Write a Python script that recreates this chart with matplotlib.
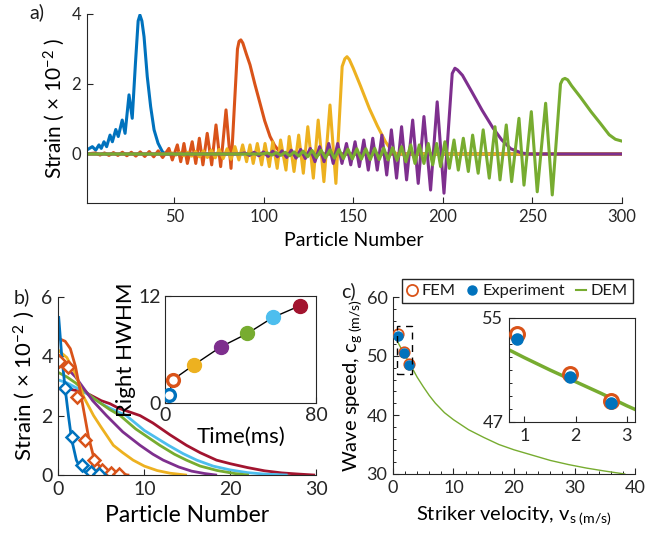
import matplotlib
matplotlib.use("Agg")
import matplotlib.pyplot as plt
from matplotlib.patches import Rectangle
from matplotlib.lines import Line2D
from matplotlib.ticker import MultipleLocator

plt.rcParams['font.family'] = ['Lato', 'DejaVu Sans']
plt.rcParams['mathtext.fontset'] = 'custom'
plt.rcParams['mathtext.rm'] = 'Lato'
plt.rcParams['mathtext.it'] = 'Lato:italic'
plt.rcParams['axes.edgecolor'] = '#262626'
plt.rcParams['text.color'] = '#1a1a1a'
plt.rcParams['xtick.color'] = '#262626'
plt.rcParams['ytick.color'] = '#262626'

# MATLAB default line colours
c_blue, c_orange, c_yellow = '#0072BD', '#D95319', '#EDB120'
c_purple, c_green, c_cyan, c_red = '#7E2F8E', '#77AC30', '#4DBEEE', '#A2142F'

# ---------------- panel a: strain along the chain (5 snapshots) ----------------
a_blue_x = [1, 4.2, 6.1, 7.9, 9.2, 10.7, 12.2, 14.1, 15.4, 17.3, 18.7, 20.9, 22.5, 24.7, 26.5,
            28.3, 29.8, 30.8, 31.9, 33.1, 34.9, 36.8, 38.7, 40.9, 43.3, 45, 300]
a_blue_y = [0.11, 0.21, 0.11, 0.26, 0.16, 0.35, 0.21, 0.54, 0.35, 0.70, 0.50, 0.97, 0.59, 1.69, 1.02,
            2.6, 3.8, 3.97, 3.8, 3.35, 2.21, 1.35, 0.69, 0.31, 0.07, 0, 0]

a_orange_x = [1, 6, 8.5, 11, 13.5, 16, 18.5, 21, 23.5, 26, 28.5, 31, 33.5, 36, 38.5, 41, 43.5,
              47.0, 48.9, 51.7, 53.6, 55.4, 57.3, 60.0, 62.0, 64.0, 66.0, 68.4, 70.9, 73.3, 75.9,
              78.9, 81.7, 85.3, 86.2, 87.2, 88.3, 90.3, 92.3, 95, 97.9, 100.5, 103.5, 106, 108.1,
              111, 113, 300]
a_orange_y = [0, 0.03, -0.03, 0.03, -0.04, 0.04, -0.04, 0.05, -0.05, 0.05, -0.06, 0.06, -0.07, 0.07,
              -0.08, 0.09, -0.1,
              0.16, -0.17, 0.26, -0.22, 0.30, -0.27, 0.35, -0.27, 0.45, -0.31, 0.59, -0.31, 0.83, -0.36,
              1.26, -0.41, 3.0, 3.22, 3.26, 3.17, 2.85, 2.55, 2.0, 1.45, 0.95, 0.5, 0.25, 0.11,
              0.02, 0, 0]

a_yellow_x = [1, 46, 48.7, 50.9, 53.1, 55.3, 57.5, 59.7, 61.9, 64.1, 66.3, 68.5, 70.7, 72.9, 75.1,
              77.3, 79.5, 81.7,
              83.9, 86.1, 88.2, 90.4, 92.3, 94.1, 96.4, 98.8, 100.7, 103.1, 105.0, 107.5, 109.4,
              112.4, 114.2, 116.9, 119.5, 122.1, 124.6, 127.7, 130.4, 133.6, 137.0, 140.3,
              143.8, 145.3, 146.5, 147.8, 150, 154, 159, 163.5, 168, 172, 175, 300]
a_yellow_y = [0, 0, 0.03, -0.03, 0.04, -0.05, 0.05, -0.06, 0.07, -0.08, 0.09, -0.1, 0.11, -0.11,
              0.13, -0.13, 0.15, -0.15,
              0.21, -0.17, 0.26, -0.22, 0.26, -0.27, 0.30, -0.31, 0.30, -0.36, 0.35, -0.41, 0.40,
              -0.46, 0.50, -0.50, 0.54, -0.55, 0.78, -0.69, 0.97, -0.79, 1.40, -0.84,
              2.5, 2.72, 2.78, 2.7, 2.45, 1.95, 1.3, 0.8, 0.35, 0.06, 0, 0]

a_purple_x = [1, 86, 89.4, 92, 94.6, 97.2, 99.8, 102.4, 105, 107.6, 110.2, 112.8, 115.4, 118, 120.6,
              123.2,
              126.0, 128.6, 131.2, 133.7, 136.3, 138.8, 141.3, 143.7, 146.2, 148.6, 151.0, 153.4,
              155.9, 158.4, 160.9, 163.4, 166.0, 168.7, 171.3, 174.2, 177.0, 179.8, 183.2, 186.3,
              189.5, 193.2, 196.9, 200.7,
              205.3, 206.8, 208.3, 211, 216, 222, 228, 233, 238, 244, 248, 300]
a_purple_y = [0, 0, 0.03, -0.04, 0.05, -0.05, 0.06, -0.07, 0.08, -0.08, 0.09, -0.1, 0.11, -0.12, 0.13,
              -0.13,
              0.16, -0.22, 0.21, -0.22, 0.30, -0.27, 0.30, -0.27, 0.30, -0.31, 0.35, -0.36,
              0.40, -0.46, 0.45, -0.46, 0.54, -0.60, 0.69, -0.69, 0.78, -0.74, 0.97, -0.84,
              1.07, -1.03, 1.49, -1.12,
              2.3, 2.45, 2.4, 2.25, 1.8, 1.25, 0.75, 0.4, 0.15, 0.03, 0, 0]

a_green_x = [1, 99, 102, 104.5, 107, 109.5, 112, 114.5, 117, 119.5, 122, 124.5, 127, 129.5, 132,
             134.5, 137, 139.5, 142, 144.5, 147, 149.5, 152, 154.5, 157, 159.5, 162, 164.5, 167,
             169.5, 172, 174.5,
             177.0, 179.4, 182.1, 184.5, 186.9, 189.5, 191.9, 194.4, 196.6, 198.8, 201.2, 203.7,
             206.3, 208.7, 211.5, 214.3, 216.7, 219.8, 222.6, 226.0, 229.2, 232.0, 235.5, 238.5,
             242.6, 245.4, 249.5, 252.8, 257.5, 261.2,
             265.8, 267, 268.3, 269.8, 272, 277, 283, 288, 293, 296.5, 300]
a_green_y = [0, 0, 0.03, -0.03, 0.04, -0.04, 0.05, -0.05, 0.06, -0.06, 0.08, -0.08, 0.1, -0.1, 0.11,
             -0.11, 0.12, -0.12, 0.13, -0.13, 0.14, -0.14, 0.15, -0.15, 0.15, -0.16, 0.16, -0.16,
             0.17, -0.17, 0.18, -0.18,
             0.21, -0.22, 0.26, -0.27, 0.26, -0.27, 0.30, -0.31, 0.30, -0.36, 0.35, -0.41,
             0.40, -0.46, 0.45, -0.50, 0.54, -0.55, 0.69, -0.69, 0.78, -0.74, 0.83, -0.79,
             1.02, -0.89, 1.21, -1.08, 1.45, -1.17,
             2.0, 2.13, 2.16, 2.12, 1.95, 1.62, 1.2, 0.88, 0.55, 0.42, 0.37]

# ---------------- panel b: strain profile behind the front ----------------
b_blue_x = [0.05, 0.4, 0.8, 1.2, 1.55, 2.1, 2.7, 3.5, 4.7]
b_blue_y = [5.3, 4.0, 2.9, 1.95, 1.2, 0.5, 0.17, 0.06, 0]
b_orange_x = [0, 0.8, 1.4, 2.0, 2.5, 3.0, 3.5, 4.2, 4.85, 6.0, 7.0, 8.1]
b_orange_y = [4.6, 4.5, 4.25, 3.65, 2.9, 2.1, 1.3, 0.5, 0.28, 0.11, 0.04, 0]
b_yellow_x = [0, 1, 2, 3, 4.1, 5, 6.4, 7.5, 8.7, 10, 11.5, 13, 14.8]
b_yellow_y = [4.2, 3.95, 3.4, 2.6, 2.0, 1.6, 1.0, 0.75, 0.5, 0.3, 0.15, 0.06, 0]
b_purple_x = [0, 1, 2, 3, 4, 5.6, 7.5, 9.5, 11, 12.2, 14, 15.5, 17, 18.3]
b_purple_y = [3.75, 3.6, 3.3, 2.9, 2.5, 2.0, 1.45, 1.0, 0.7, 0.5, 0.27, 0.13, 0.05, 0]
b_green_x = [0, 1, 2, 3, 4, 5, 6, 7.2, 9, 11.8, 13.5, 14.9, 16.5, 18.5, 20.5, 22]
b_green_y = [3.45, 3.3, 3.1, 2.85, 2.6, 2.4, 2.2, 2.0, 1.55, 1.0, 0.7, 0.5, 0.3, 0.15, 0.05, 0]
b_cyan_x = [0, 1, 2, 3, 4, 5, 6, 7.9, 10, 12.8, 14.5, 16.1, 18, 20, 22, 24, 26.5]
b_cyan_y = [3.2, 3.1, 2.95, 2.8, 2.6, 2.4, 2.25, 2.0, 1.5, 1.0, 0.72, 0.5, 0.3, 0.17, 0.08, 0.03, 0]
b_red_x = [0, 1, 2, 3, 4, 5, 6, 7, 8, 9.5, 11, 13, 14.9, 16.5, 18.4, 20, 22, 24, 26, 28, 29.7]
b_red_y = [2.9, 2.9, 2.85, 2.8, 2.65, 2.5, 2.4, 2.25, 2.15, 2.0, 1.75, 1.35, 1.0, 0.75, 0.5, 0.38,
           0.25, 0.14, 0.07, 0.03, 0]

b_dia_blue_x = [0.8, 1.55, 2.7, 3.75, 4.75]
b_dia_blue_y = [2.92, 1.29, 0.34, 0.11, 0.02]
b_dia_orange_x = [0.12, 1.16, 2.21, 3.1, 4.19, 5.05, 6.13, 7.1]
b_dia_orange_y = [3.85, 3.63, 2.62, 1.18, 0.5, 0.17, 0.08, 0.02]

# inset b: right half width at half maximum vs time
hw_time = [2.1, 4.1, 15.5, 29.6, 43.7, 57.2, 71.4]
hw_value = [0.9, 2.6, 4.3, 6.3, 7.8, 9.6, 10.9]
hw_colors = [c_blue, c_orange, c_yellow, c_purple, c_green, c_cyan, c_red]
hw_open = [True, True, False, False, False, False, False]

# ---------------- panel c: wave speed vs striker velocity ----------------
fem_v = [0.86, 1.89, 2.70]
fem_c = [53.77, 50.67, 48.64]
exp_v = [0.86, 1.89, 2.70]
exp_c = [53.36, 50.44, 48.48]
exp_verr = [0.04, 0.05, 0.06]
exp_cerr = [0.25, 0.3, 0.15]
dem_v = [0.3, 0.7, 1.0, 1.5, 2.0, 2.5, 3.0, 3.2, 4, 5, 6, 7, 8.5, 10, 12.5, 15, 17.5, 20, 23, 26,
         29, 32, 35, 38.3]
dem_c = [53.6, 52.55, 51.95, 51.0, 50.1, 49.2, 48.25, 47.9, 46.4, 44.8, 43.3, 42.0, 40.4, 39.2,
         37.5, 36.2, 35.0, 34.1, 33.2, 32.3, 31.6, 31.0, 30.5, 30.0]

W, H = 645, 537
fig = plt.figure(figsize=(W / 100, H / 100), dpi=100)


def box(l, t, r, b):
    return [l / W, 1 - b / H, (r - l) / W, (b - t) / H]


def style(ax, size, keep_box=False):
    if not keep_box:
        ax.spines['top'].set_visible(False)
        ax.spines['right'].set_visible(False)
    ax.tick_params(direction='in', length=4, width=0.8, labelsize=size, pad=4)
    ax.tick_params(which='minor', direction='in', length=2.2, width=0.7)


# panel a
ax_a = fig.add_axes(box(86.6, 14, 621.7, 203))
for xs, ys, col in [(a_blue_x, a_blue_y, c_blue), (a_orange_x, a_orange_y, c_orange),
                    (a_yellow_x, a_yellow_y, c_yellow), (a_purple_x, a_purple_y, c_purple),
                    (a_green_x, a_green_y, c_green)]:
    ax_a.plot(xs, ys, color=col, lw=2.2, solid_joinstyle='round')
ax_a.set_xlim(1, 300)
ax_a.set_ylim(-1.4, 4)
ax_a.set_xticks([50, 100, 150, 200, 250, 300])
ax_a.set_yticks([0, 2, 4])
style(ax_a, 12)
ax_a.set_xlabel('Particle Number', fontsize=14, labelpad=5)
ax_a.set_ylabel(r'Strain ( $\times$ 10$^{-2}$ )', fontsize=15, labelpad=3)
fig.text(37 / W, 1 - 12 / H, 'a)', fontsize=14, ha='center', va='center')

# panel b
ax_b = fig.add_axes(box(58.3, 296.7, 316.3, 475))
for xs, ys, col in [(b_red_x, b_red_y, c_red), (b_cyan_x, b_cyan_y, c_cyan),
                    (b_green_x, b_green_y, c_green), (b_purple_x, b_purple_y, c_purple),
                    (b_yellow_x, b_yellow_y, c_yellow), (b_orange_x, b_orange_y, c_orange),
                    (b_blue_x, b_blue_y, c_blue)]:
    ax_b.plot(xs, ys, color=col, lw=2.0)
ax_b.plot(b_dia_orange_x, b_dia_orange_y, ls='none', marker='D', ms=6, mfc='white',
          mec=c_orange, mew=1.8)
ax_b.plot(b_dia_blue_x, b_dia_blue_y, ls='none', marker='D', ms=6, mfc='white',
          mec=c_blue, mew=1.8)
ax_b.set_xlim(0, 30)
ax_b.set_ylim(0, 6)
ax_b.set_xticks([0, 10, 20, 30])
ax_b.set_yticks([0, 2, 4, 6])
style(ax_b, 14)
ax_b.set_xlabel('Particle Number', fontsize=16.5, labelpad=5)
ax_b.set_ylabel(r'Strain ( $\times$ 10$^{-2}$ )', fontsize=16, labelpad=3)
fig.text(22 / W, 1 - 297 / H, 'b)', fontsize=14, ha='center', va='center')

ax_bi = fig.add_axes(box(165, 296, 316, 403))
ax_bi.plot(hw_time, hw_value, color='black', lw=1.0, zorder=2)
for t, v, col, op in zip(hw_time, hw_value, hw_colors, hw_open):
    if op:
        ax_bi.plot(t, v, marker='o', ms=8.5, mfc='white', mec=col, mew=2.4, zorder=3)
    else:
        ax_bi.plot(t, v, marker='o', ms=10, mfc=col, mec=col, zorder=3)
ax_bi.set_xlim(0, 80)
ax_bi.set_ylim(0, 12)
ax_bi.set_xticks([0, 80])
ax_bi.set_yticks([0, 12])
ax_bi.tick_params(direction='in', length=4, width=0.8, labelsize=14, pad=3)
ax_bi.set_xlabel('Time(ms)', fontsize=16, labelpad=2)
ax_bi.set_ylabel('Right HWHM', fontsize=16, labelpad=2)

# panel c
ax_c = fig.add_axes(box(393, 297, 635, 474))
ax_c.plot(dem_v, dem_c, color=c_green, lw=1.0, zorder=2)
ax_c.plot(fem_v, fem_c, ls='none', marker='o', ms=7.5, mfc='white', mec=c_orange, mew=1.3, zorder=3)
ax_c.errorbar(exp_v, exp_c, xerr=exp_verr, yerr=exp_cerr, fmt='o', ms=6.5, mfc=c_blue, mec=c_blue,
              ecolor='red', elinewidth=0.8, capsize=0, zorder=4)
ax_c.add_patch(Rectangle((0.7, 47), 2.5, 8, fill=False, ls=(0, (5, 4)), lw=1.0, ec='black',
                         zorder=5))
ax_c.set_xlim(0, 40)
ax_c.set_ylim(30, 60)
ax_c.set_xticks([0, 10, 20, 30, 40])
ax_c.set_yticks([30, 40, 50, 60])
ax_c.xaxis.set_minor_locator(MultipleLocator(2))
ax_c.yaxis.set_minor_locator(MultipleLocator(2))
style(ax_c, 13)
ax_c.set_xlabel(r'Striker velocity, v$_{\mathrm{s\ (m/s)}}$', fontsize=14.5, labelpad=6)
ax_c.set_ylabel(r'Wave speed, c$_{\mathrm{g\ (m/s)}}$', fontsize=14.5, labelpad=2)
fig.text(348 / W, 1 - 291 / H, 'c)', fontsize=14, ha='center', va='center')

ax_ci = fig.add_axes(box(509, 318, 635, 422))
ax_ci.plot(dem_v, dem_c, color=c_green, lw=2.5, zorder=2)
ax_ci.plot(fem_v, fem_c, ls='none', marker='o', ms=10, mfc='white', mec=c_orange, mew=2.2, zorder=3)
ax_ci.errorbar(exp_v, exp_c, xerr=exp_verr, yerr=exp_cerr, fmt='o', ms=8, mfc=c_blue, mec=c_blue,
               ecolor='red', elinewidth=1.2, capsize=0, zorder=4)
ax_ci.set_xlim(0.7, 3.16)
ax_ci.set_ylim(47, 55)
ax_ci.set_xticks([1, 2, 3])
ax_ci.set_yticks([47, 55])
ax_ci.yaxis.set_minor_locator(MultipleLocator(1))
ax_ci.tick_params(direction='in', length=4, width=0.8, labelsize=13, pad=4)
ax_ci.tick_params(which='minor', direction='in', length=2, width=0.7)

handles = [Line2D([], [], ls='none', marker='o', ms=8, mfc='white', mec=c_orange, mew=1.3),
           Line2D([], [], ls='none', marker='o', ms=6.5, mfc=c_blue, mec=c_blue),
           Line2D([], [], color=c_green, lw=1.5)]
fig.legend(handles, ['FEM', 'Experiment', 'DEM'], loc='center',
           bbox_to_anchor=(517.5 / W, 1 - 291 / H), ncol=3, fontsize=11.8, frameon=True,
           fancybox=False, edgecolor='#262626', framealpha=1, handlelength=0.6,
           handletextpad=0.3, columnspacing=0.7, borderpad=0.3, borderaxespad=0)

fig.savefig('out.png', dpi=100)
